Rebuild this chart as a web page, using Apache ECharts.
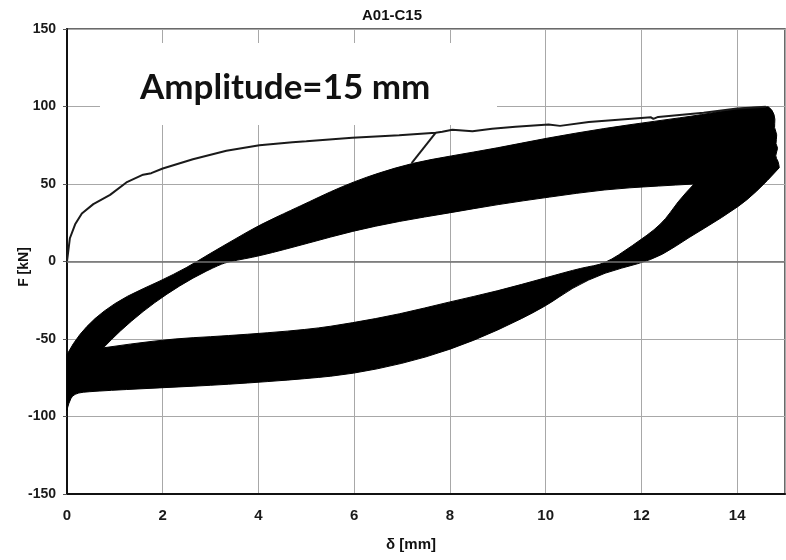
<!DOCTYPE html>
<html>
<head>
<meta charset="utf-8">
<script src="https://cdn.jsdelivr.net/npm/echarts@6/dist/echarts.min.js"></script>
<style>html,body{margin:0;padding:0;background:#fff}#c{width:786px;height:560px}</style>
</head>
<body>
<div id="c"></div>
<script>
// ---- data (δ [mm], F [kN]) ----
const chartTitle = 'A01-C15';
const noteText = 'Amplitude=15 mm';
const xName = 'δ [mm]';
const yName = 'F [kN]';
const xTicks = [0, 2, 4, 6, 8, 10, 12, 14];
const yTicks = [-150, -100, -50, 0, 50, 100, 150];

// first loading curve
const firstLoading = [[0,0],[0.06,15],[0.17,24],[0.31,31],[0.55,37],[0.9,43],[1.24,51],[1.59,56],[1.76,57],
  [2.0,60],[2.63,66],[3.33,71.5],[4.02,75],[4.71,77],[5.0,77.6],[5.96,79.8],[6.94,81.5],[7.7,83],[7.84,83.7],
  [8.05,85],[8.47,84],[8.88,85.6],[9.37,87],[10.06,88.4],[10.3,87.5],[10.9,90],[12.2,93],[12.25,92],[12.35,93.3],
  [13.3,96],[14.0,98.7],[14.6,99.8]];
// drop branch of the first loading curve
const firstDrop = [[7.7,83],[7.2,63.5]];

// outer envelope of the cyclic loops: top edge (left -> right)
const envTop = [[0,-60],[0.13,-52.5],[0.41,-41.7],[0.76,-32],[1.24,-22.4],[1.94,-12.7],[2.5,-4],[2.98,5],
  [3.54,15],[4.02,23.5],[4.71,33.5],[5.06,38.5],[5.5,45],[6.0,51.5],[6.5,57],[7.21,63.5],[8.0,68],[9.0,73.3],
  [10.0,79.5],[11.24,86],[12.28,90.5],[13.3,94.8],[14.0,99],[14.65,99.8]];
// outer envelope: right end (top -> bottom)
const envRight = [[14.65,99.8],[14.74,98],[14.8,91.6],[14.77,86.3],[14.84,82],[14.8,75.5],[14.86,73.4],[14.79,68],
  [14.86,64.7],[14.88,60.5]];
// outer envelope: bottom edge (right -> left)
const envBottom = [[14.88,60.5],[14.37,43],[13.67,28],[12.98,15.3],[12.43,4],[11.94,-1.5],[11.24,-7],[10.55,-17],
  [10.0,-29],[9.0,-44.5],[8.0,-57],[7.0,-66],[5.96,-72.5],[5.06,-75.5],[3.33,-79.4],[1.94,-81.5],
  [0.55,-83.7],[0.13,-85],[0.03,-92],[0,-96]];
// inner (empty) part of the loops: lower side (left -> right)
const holeLow = [[0.76,-55.7],[1.94,-50.3],[3.33,-48],[5.06,-43.9],[5.96,-39.6],[6.94,-34],[8.0,-26],
  [9.0,-19],[10.0,-10.5],[10.76,-4],[11.24,-1.5],[11.8,9.9],[12.43,24],[12.77,39],[13.1,50]];
// inner part: upper side (right -> left)
const holeHigh = [[13.1,50],[12.28,48.6],[11.24,46.5],[10.06,41.5],[9.0,36.8],[8.0,31.4],[6.94,26],[5.96,19.6],
  [5.06,12],[4.02,3.5],[3.4,0],[3.19,-2],[2.63,-10.5],[2.08,-21],[1.59,-32],[1.1,-45],[0.76,-55.7]];

const chart = echarts.init(document.getElementById('c'), null, {renderer: 'canvas'});
const narrow = '"Liberation Sans Narrow","Liberation Sans",Arial,sans-serif';
const labelFont = {fontFamily: narrow, fontWeight: 'bold', color: '#1a1a1a'};

// smooth sub-path through the screen positions of one edge (quadratic midpoints)
function edgePath(api, pts, first) {
  const c = pts.map(function (p) { return api.coord(p); });
  const f = function (v) { return v.toFixed(2); };
  let d = (first ? 'M' : 'L') + f(c[0][0]) + ' ' + f(c[0][1]) + ' ';
  for (let i = 1; i < c.length - 1; i++) {
    const mx = (c[i][0] + c[i + 1][0]) / 2, my = (c[i][1] + c[i + 1][1]) / 2;
    d += 'Q' + f(c[i][0]) + ' ' + f(c[i][1]) + ' ' + f(mx) + ' ' + f(my) + ' ';
  }
  const l = c[c.length - 1];
  d += 'L' + f(l[0]) + ' ' + f(l[1]) + ' ';
  return d;
}

chart.setOption({
  animation: false,
  backgroundColor: '#fff',
  grid: {left: 67, right: 1, top: 29, bottom: 66, show: true, borderColor: '#3a3a3a', borderWidth: 1.5, backgroundColor: 'transparent'},
  xAxis: {
    type: 'value', min: 0, max: 15, interval: 2,
    axisLine: {show: true, onZero: false, lineStyle: {color: '#111', width: 2}},
    axisTick: {show: false},
    axisLabel: Object.assign({fontSize: 15, margin: 14, showMaxLabel: false}, labelFont),
    splitLine: {show: true, lineStyle: {color: '#a8a8a8', width: 1}}
  },
  yAxis: {
    type: 'value', min: -150, max: 150, interval: 50,
    axisLine: {show: true, onZero: false, lineStyle: {color: '#111', width: 2}},
    axisTick: {show: true, length: 4, lineStyle: {color: '#555'}},
    axisLabel: Object.assign({fontSize: 14, margin: 11}, labelFont),
    splitLine: {show: true, lineStyle: {color: '#a8a8a8', width: 1}}
  },
  graphic: [
    {type: 'text', left: 362, top: 8, z: 50, style: {text: chartTitle, font: 'bold 15px ' + narrow, fill: '#111'}},
    {type: 'rect', shape: {x: 100, y: 43, width: 397, height: 82}, z: 50, style: {fill: '#fff'}},
    {type: 'text', x: 140, y: 88, z: 51, style: {text: noteText, font: 'bold 35px Lato, "Open Sans", sans-serif', fill: '#111', verticalAlign: 'middle', textAlign: 'left'}},
    {type: 'text', x: 24, y: 267, rotation: Math.PI / 2, z: 50, style: {text: yName, font: 'bold 14px ' + narrow, fill: '#111', textAlign: 'center', verticalAlign: 'middle'}},
    {type: 'text', x: 411, y: 545, z: 50, style: {text: xName, font: 'bold 15px ' + narrow, fill: '#111', textAlign: 'center', verticalAlign: 'middle'}}
  ],
  series: [
    {
      type: 'line', data: [[0, 0], [15, 0]], symbol: 'none', lineStyle: {width: 0, opacity: 0}, silent: true, z: 1,
      markLine: {silent: true, symbol: 'none', label: {show: false}, lineStyle: {color: '#707070', width: 1.5, type: 'solid'}, data: [{yAxis: 0}]}
    },
    {
      type: 'custom', z: 3,
      data: envTop,
      encode: {x: 0, y: 1},
      renderItem: function (params, api) {
        if (params.dataIndex !== 0) return null;
        const d = edgePath(api, envTop, true) + edgePath(api, envRight, false) + edgePath(api, envBottom, false) + 'Z ' +
                  edgePath(api, holeLow, true) + edgePath(api, holeHigh, false) + 'Z';
        return {type: 'path', shape: {pathData: d}, style: {fill: '#000', stroke: '#000', lineWidth: 1}};
      }
    },
    {type: 'line', data: firstLoading, symbol: 'none', smooth: false, z: 4, lineStyle: {color: '#1a1a1a', width: 2}},
    {type: 'line', data: firstDrop, symbol: 'none', z: 4, lineStyle: {color: '#1a1a1a', width: 2}}
  ]
});
</script>
</body>
</html>
